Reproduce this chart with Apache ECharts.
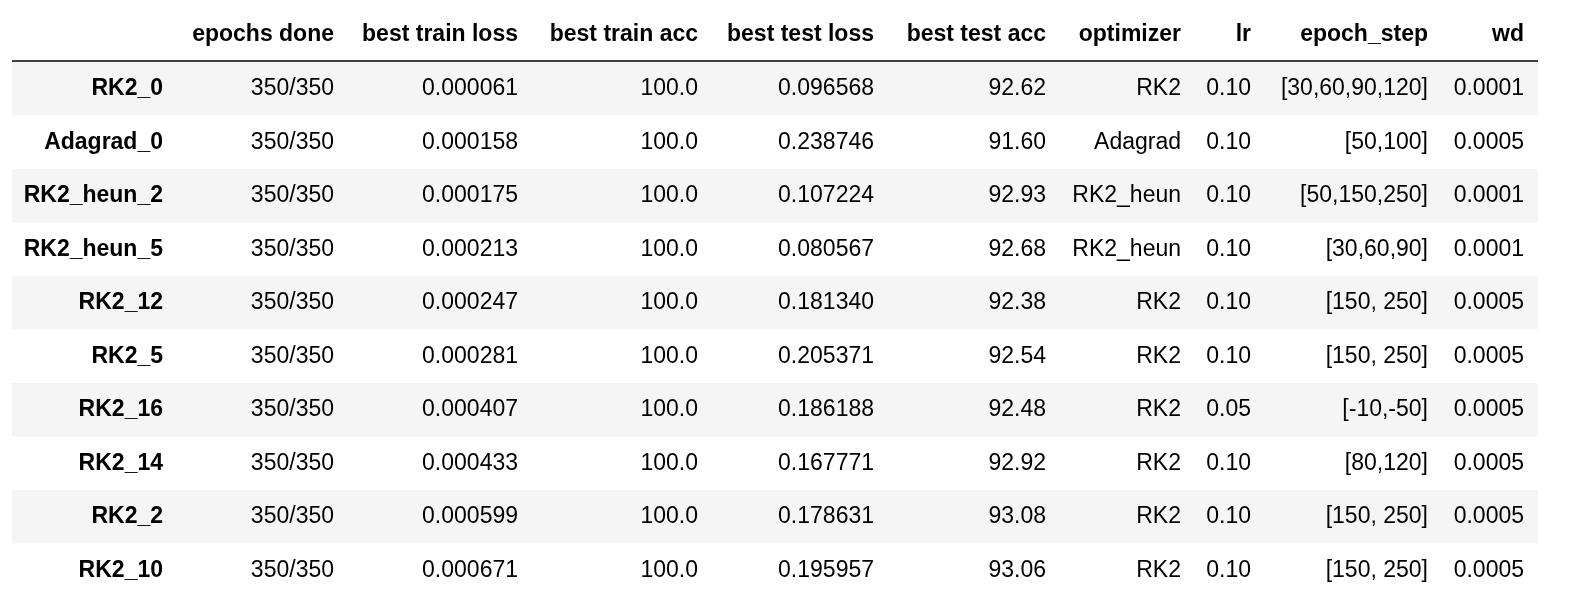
<!DOCTYPE html>
<html lang="en">
<head>
    <meta charset="utf-8">
    <title>results table</title>
    <script src="https://cdn.jsdelivr.net/npm/echarts@6/dist/echarts.min.js"></script>
    <style>html,body{margin:0;padding:0;background:#fff;overflow:hidden;}</style>
</head>
<body>
<div id="main" style="width:1586px;height:602px;"></div>
<script>
    // table contents
    var headers = ['', 'epochs done', 'best train loss', 'best train acc', 'best test loss', 'best test acc', 'optimizer', 'lr', 'epoch_step', 'wd'];
    var rowNames = ['RK2_0', 'Adagrad_0', 'RK2_heun_2', 'RK2_heun_5', 'RK2_12', 'RK2_5', 'RK2_16', 'RK2_14', 'RK2_2', 'RK2_10'];
    var epochsDone = ['350/350', '350/350', '350/350', '350/350', '350/350', '350/350', '350/350', '350/350', '350/350', '350/350'];
    var bestTrainLoss = ['0.000061', '0.000158', '0.000175', '0.000213', '0.000247', '0.000281', '0.000407', '0.000433', '0.000599', '0.000671'];
    var bestTrainAcc = ['100.0', '100.0', '100.0', '100.0', '100.0', '100.0', '100.0', '100.0', '100.0', '100.0'];
    var bestTestLoss = ['0.096568', '0.238746', '0.107224', '0.080567', '0.181340', '0.205371', '0.186188', '0.167771', '0.178631', '0.195957'];
    var bestTestAcc = ['92.62', '91.60', '92.93', '92.68', '92.38', '92.54', '92.48', '92.92', '93.08', '93.06'];
    var optimizer = ['RK2', 'Adagrad', 'RK2_heun', 'RK2_heun', 'RK2', 'RK2', 'RK2', 'RK2', 'RK2', 'RK2'];
    var lr = ['0.10', '0.10', '0.10', '0.10', '0.10', '0.10', '0.05', '0.10', '0.10', '0.10'];
    var epochStep = ['[30,60,90,120]', '[50,100]', '[50,150,250]', '[30,60,90]', '[150, 250]', '[150, 250]', '[-10,-50]', '[80,120]', '[150, 250]', '[150, 250]'];
    var wd = ['0.0001', '0.0005', '0.0001', '0.0001', '0.0005', '0.0005', '0.0005', '0.0005', '0.0005', '0.0005'];

    // layout (pixel space of the value axes)
    var colRight = [163, 334, 518, 698, 874, 1046, 1181, 1251, 1428, 1524];
    var tableLeft = 12, tableRight = 1538;
    var headerY = 35, lineY = 61, rowTop = 62, rowH = 53.5;

    var columns = [rowNames, epochsDone, bestTrainLoss, bestTrainAcc, bestTestLoss, bestTestAcc, optimizer, lr, epochStep, wd];
    var cells = [];
    for (var c = 0; c < columns.length; c++) {
        cells.push([c, -1, headers[c]]);
        for (var r = 0; r < rowNames.length; r++) cells.push([c, r, columns[c][r]]);
    }

    var font = '"Liberation Sans", Arial, sans-serif';
    var myChart = echarts.init(document.getElementById('main'));
    myChart.setOption({
        animation: false,
        grid: {left: 0, right: 0, top: 0, bottom: 0},
        xAxis: {type: 'value', min: 0, max: 1586, show: false},
        yAxis: {type: 'value', min: 0, max: 602, inverse: true, show: false},
        series: [{
            type: 'custom',
            coordinateSystem: 'cartesian2d',
            data: cells,
            renderItem: function (params, api) {
                var c = api.value(0), r = api.value(1), txt = cells[params.dataIndex][2];
                var children = [];
                var y = r < 0 ? headerY : rowTop + rowH * (r + 0.5);
                if (c === 0 && r >= 0 && r % 2 === 0) {
                    var p0 = api.coord([tableLeft, rowTop + rowH * r]);
                    var p1 = api.coord([tableRight, rowTop + rowH * (r + 1)]);
                    children.push({type: 'rect', shape: {x: p0[0], y: p0[1], width: p1[0] - p0[0], height: p1[1] - p0[1]}, style: {fill: '#f5f5f5'}, z2: 0});
                }
                if (c === 0 && r < 0) {
                    var a = api.coord([tableLeft, lineY]), b = api.coord([tableRight, lineY]);
                    children.push({type: 'line', shape: {x1: a[0], y1: a[1], x2: b[0], y2: b[1]}, style: {stroke: '#000', lineWidth: 1.5}});
                }
                var pt = api.coord([colRight[c], y]);
                children.push({
                    type: 'text', z2: 10,
                    style: {
                        x: pt[0], y: pt[1], text: txt, align: 'right', verticalAlign: 'middle',
                        fill: '#000', font: ((r < 0 || c === 0) ? 'bold ' : '') + '23px ' + font
                    }
                });
                return {type: 'group', children: children};
            }
        }]
    });
</script>
</body>
</html>
